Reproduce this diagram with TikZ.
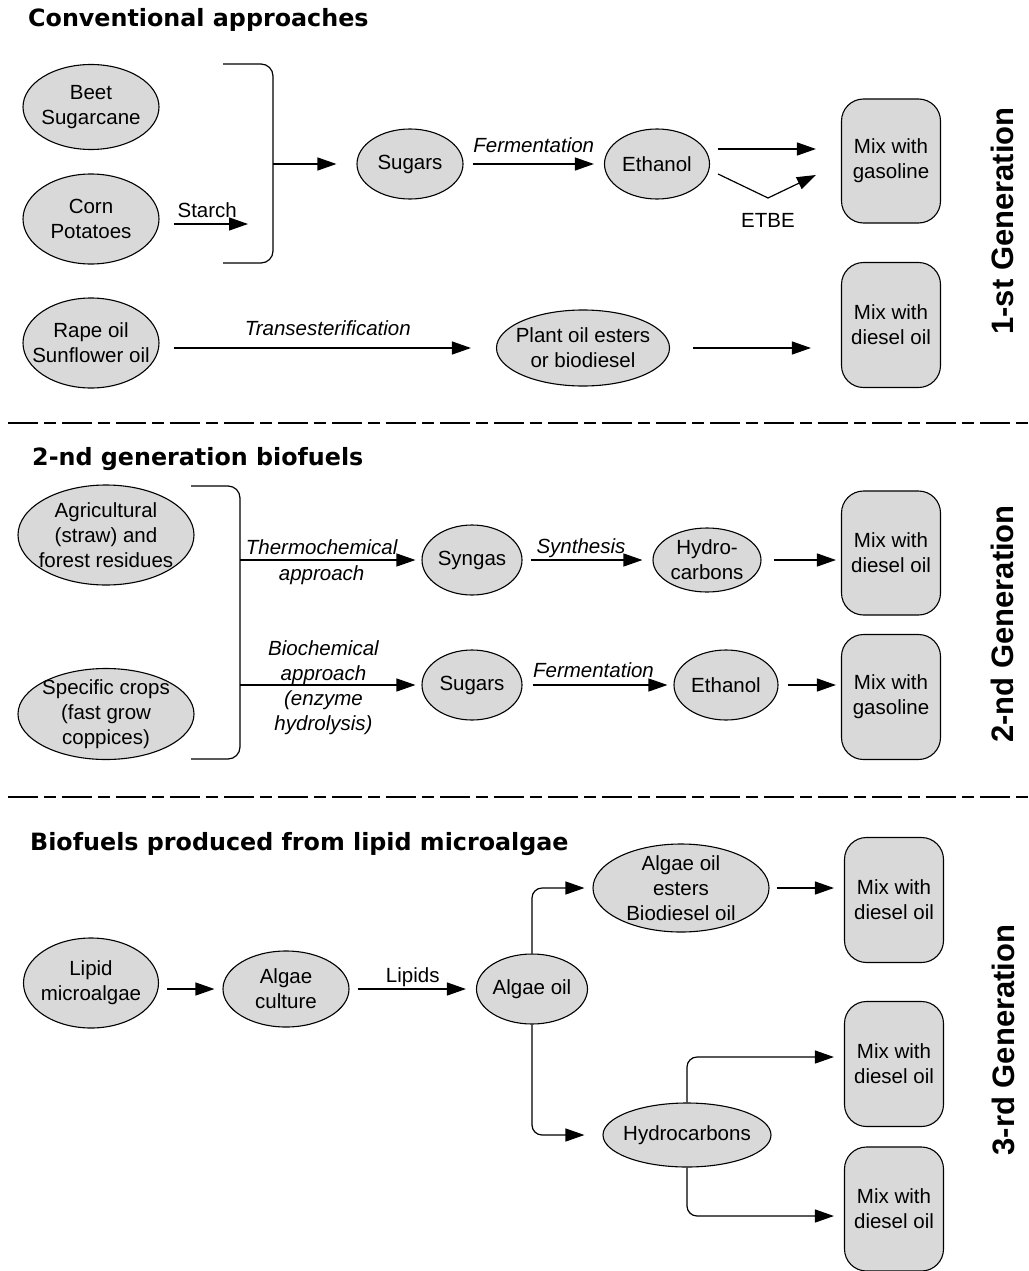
\documentclass[tikz,border=0pt]{standalone}
\usepackage{fontspec}
\setmainfont{Liberation Sans}
\newfontfamily\headfont{DejaVu Sans}
\usepackage{xcolor}
\usetikzlibrary{arrows.meta}
\usetikzlibrary{positioning}
\usetikzlibrary{calc}
\usetikzlibrary{shapes.geometric}

\definecolor{fuelgray}{RGB}{217,217,217}
\newcommand{\nodefont}{\fontsize{20.5}{25}\selectfont}

\tikzset{
  fuel/.style 2 args={ellipse, draw=black, fill=fuelgray, line width=1.1pt, inner sep=0pt, minimum width=#1, minimum height=#2},
  mixbox/.style={rectangle, rounded corners=22pt, draw=black, fill=fuelgray, line width=1.1pt, inner sep=0pt, minimum width=99pt, minimum height=124pt, align=center, font=\nodefont},
  txt/.style={align=center, font=\nodefont, inner sep=0pt},
  lbl/.style={anchor=base, align=center, inner sep=0pt, font=\nodefont},
  proc/.style={lbl, font=\nodefont\itshape},
  flow/.style={line width=1.2pt, -{Triangle[length=19pt,width=13pt]}, shorten <=9pt, shorten >=10pt},
  heading/.style={anchor=base west, inner sep=0pt, font=\headfont\bfseries\fontsize{23.8}{28}\selectfont},
  generation/.style={rotate=90, anchor=base, inner sep=0pt, font=\bfseries\fontsize{31}{36}\selectfont},
  divider/.style={line width=2.4pt, dash pattern=on 30pt off 6pt on 12pt off 6pt},
  bracket/.style={line width=1.2pt, rounded corners=12pt},
}

\begin{document}
\begin{tikzpicture}[x=1pt,y=-1pt]
  \useasboundingbox (0,0) rectangle (1028,1271);

  % 1-st generation
  \node[heading] (head1) at (28,27) {Conventional approaches};
  \node[fuel={136pt}{85pt}, label={[txt]center:Beet\\Sugarcane}] (beet) at (91,107) {};
  \node[fuel={136pt}{90pt}, label={[txt]center:Corn\\Potatoes}] (corn) at (91,219) {};
  \node[fuel={136pt}{90pt}, label={[txt]center:Rape oil\\Sunflower oil}] (rape) at (91,343) {};
  \node[fuel={106pt}{70pt}, label={[txt]center:Sugars}] (sugars1) at (410,164) {};
  \node[fuel={105pt}{70pt}, label={[txt]center:Ethanol}] (ethanol1) at (657,164) {};
  \node[fuel={173pt}{76pt}, label={[txt]center:Plant oil esters\\or biodiesel}] (esters1) at (583,348) {};
  \node[mixbox] (gas1) at (891,161) {Mix with\\gasoline};
  \node[mixbox, minimum height=125pt] (diesel1) at (891,325) {Mix with\\diesel oil};
  \node[generation] (gen1) at (1013,221) {1-st Generation};

  \draw[bracket] (223,64) -- (273,64) -- (273,263) -- (223,263);
  \coordinate (join1) at (273,164);
  \coordinate (starchend) at (273,224);
  \coordinate (etbe) at (768,198);

  \draw[flow, shorten <=14pt, shorten >=25pt] ($(corn.east)+(0,5)$) -- (starchend)
    node[lbl, pos=0.42, yshift=7pt] {Starch};
  \draw[flow, shorten <=0pt, shorten >=20pt] (join1) -- (sugars1);
  \draw[flow, shorten <=9pt, shorten >=10pt] (sugars1) -- (ethanol1)
    node[proc, midway, yshift=11pt] {Fermentation};
  \draw[flow, shorten <=8pt, shorten >=25pt] ($(ethanol1.east)+(0,-15)$) -- ($(gas1.west)+(0,-12)$);
  \draw[flow, shorten <=0pt, shorten >=0pt] ($(ethanol1.east)+(8,10)$) -- (etbe) -- ($(gas1.west)+(-25,14)$);
  \node[lbl] (etbetxt) at ($(etbe)+(0,29)$) {ETBE};
  \draw[flow, shorten <=14pt, shorten >=25pt] ($(rape.east)+(0,5)$) -- (esters1.west)
    node[proc, midway, yshift=13pt] {Transesterification};
  \draw[flow, shorten <=23pt, shorten >=30pt] (esters1.east) -- ($(diesel1.west)+(0,23)$);

  \draw[divider] (8,423) -- (1028,423);

  % 2-nd generation
  \node[heading] (head2) at (32,465) {2-nd generation biofuels};
  \node[fuel={176pt}{100pt}, label={[txt]center:Agricultural\\(straw) and\\forest residues}] (agri) at (106,535) {};
  \node[fuel={176pt}{91pt}, label={[txt]center:Specific crops\\(fast grow\\coppices)}] (crops) at (106,714) {};
  \node[fuel={100pt}{70pt}, label={[txt]center:Syngas}] (syngas) at (472,560) {};
  \node[fuel={100pt}{70pt}, label={[txt]center:Sugars}] (sugars2) at (472,685) {};
  \node[fuel={108pt}{64pt}, label={[txt]center:Hydro-\\carbons}] (hydro2) at (707,560) {};
  \node[fuel={104pt}{70pt}, label={[txt]center:Ethanol}] (ethanol2) at (726,685) {};
  \node[mixbox] (diesel2) at (891,553) {Mix with\\diesel oil};
  \node[mixbox, minimum height=125pt] (gas2) at (891,697) {Mix with\\gasoline};
  \node[generation] (gen2) at (1013,624) {2-nd Generation};

  \draw[bracket] (191,486) -- (240,486) -- (240,759) -- (191,759);
  \coordinate (thermo) at (240,560);
  \coordinate (bio) at (240,685);

  \draw[flow, shorten <=0pt, shorten >=6pt] (thermo) -- (syngas)
    node[proc, pos=0.45, above=5pt] {Thermochemical}
    node[proc, pos=0.45, below=5pt] {approach};
  \draw[flow, shorten <=0pt, shorten >=6pt] (bio) -- (sugars2)
    node[proc, pos=0.46, above=0pt] {Biochemical\\approach}
    node[proc, pos=0.46, below=5pt] {(enzyme\\hydrolysis)};
  \draw[flow, shorten <=8pt, shorten >=10pt] (syngas) -- (hydro2)
    node[proc, pos=0.45, yshift=7pt] {Synthesis};
  \draw[flow, shorten <=12pt, shorten >=5pt] (hydro2.east) -- ($(diesel2.west)+(0,7)$);
  \draw[flow, shorten <=10pt, shorten >=6pt] (sugars2) -- (ethanol2)
    node[proc, pos=0.47, yshift=8pt] {Fermentation};
  \draw[flow, shorten <=9pt, shorten >=5pt] (ethanol2.east) -- ($(gas2.west)+(0,-12)$);

  \draw[divider] (8,797) -- (1028,797);

  % 3-rd generation
  \node[heading] (head3) at (30,850) {Biofuels produced from lipid microalgae};
  \node[fuel={135pt}{90pt}, label={[txt]center:Lipid\\microalgae}] (lipid) at (91,983) {};
  \node[fuel={126pt}{76pt}, label={[txt]center:Algae\\culture}] (culture) at (286,989) {};
  \node[fuel={111pt}{70pt}, label={[txt]center:Algae oil}] (oil) at (532,989) {};
  \node[fuel={176pt}{88pt}, label={[txt]center:Algae oil\\esters\\Biodiesel oil}] (esters3) at (681,888) {};
  \node[fuel={168pt}{64pt}, label={[txt]center:Hydrocarbons}] (hydro3) at (687,1135) {};
  \node[mixbox, minimum height=125pt] (diesel3a) at (894,900) {Mix with\\diesel oil};
  \node[mixbox, minimum height=125pt] (diesel3b) at (894,1064) {Mix with\\diesel oil};
  \node[mixbox] (diesel3c) at (894,1209) {Mix with\\diesel oil};
  \node[generation] (gen3) at (1014,1040) {3-rd Generation};

  \draw[flow, shorten <=8pt, shorten >=8pt] ($(lipid.east)+(0,6)$) -- (culture.west);
  \draw[flow, shorten <=8pt, shorten >=10pt] (culture) -- (oil)
    node[lbl, midway, yshift=7pt] {Lipids};
  \draw[flow, rounded corners=10pt, shorten <=0pt, shorten >=8pt] (oil.north) |- (esters3.west);
  \draw[flow, rounded corners=10pt, shorten <=0pt, shorten >=18pt] (oil.south) |- (hydro3.west);
  \draw[flow, shorten <=7pt, shorten >=10pt] (esters3.east) -- ($(diesel3a.west)+(0,-12)$);
  \draw[flow, rounded corners=10pt, shorten <=0pt, shorten >=10pt] (hydro3.north) |- ($(diesel3b.west)+(0,-7)$);
  \draw[flow, rounded corners=10pt, shorten <=0pt, shorten >=10pt] (hydro3.south) |- ($(diesel3c.west)+(0,7)$);
\end{tikzpicture}
\end{document}
